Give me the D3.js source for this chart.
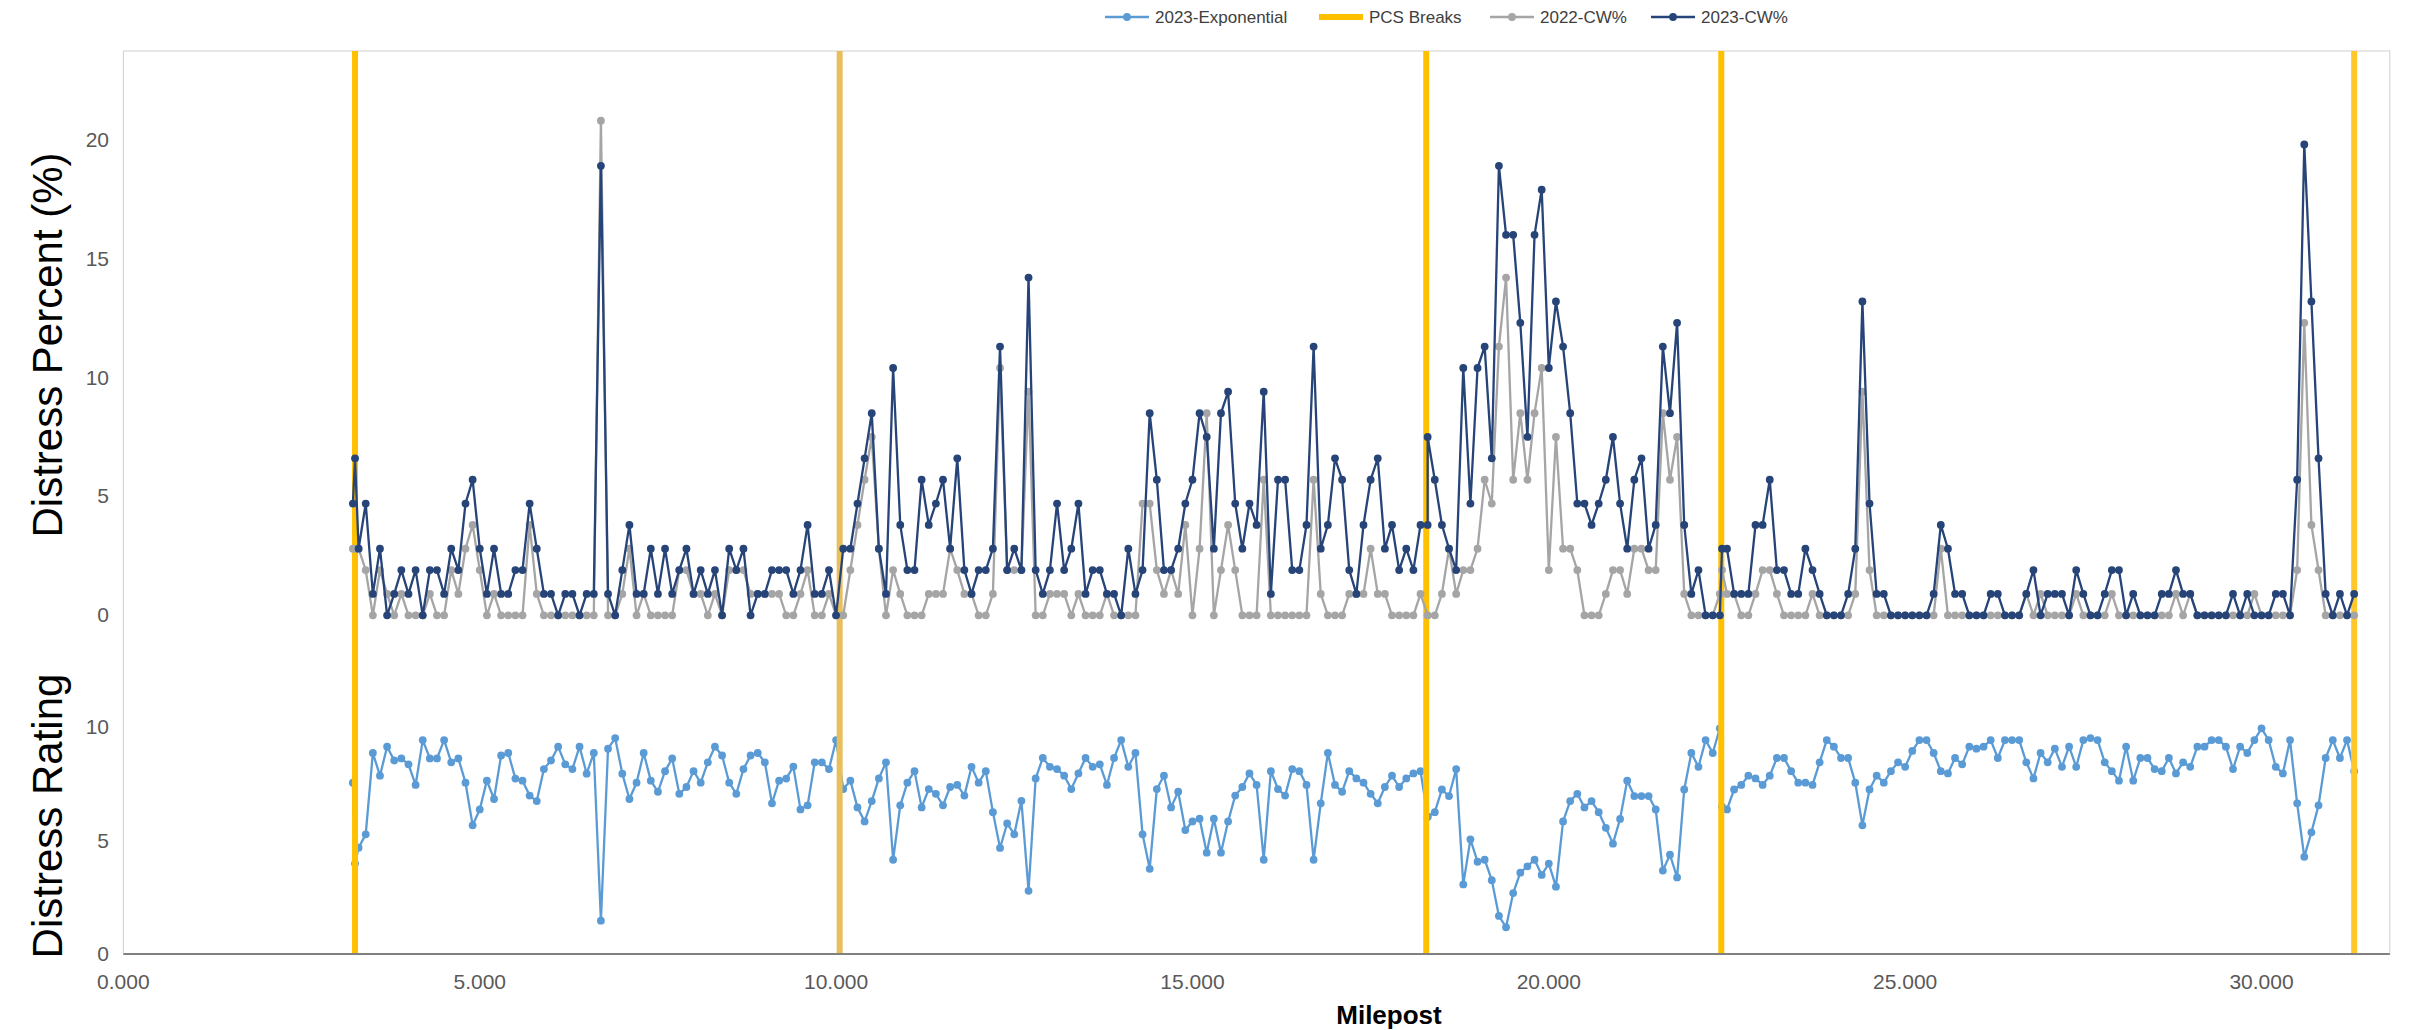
<!DOCTYPE html>
<html><head><meta charset="utf-8">
<script src="https://cdn.jsdelivr.net/npm/d3@7"></script>
<style>
body{margin:0;background:#fff}
svg{display:block}
text{font-family:"Liberation Sans",Arial,sans-serif}
</style>
</head><body>
<svg id="chart" width="2433" height="1030"></svg>
<script>
// ---------- DATA ----------
const mileposts = [3.22,3.25,3.3,
3.4,3.5,3.6,3.7,3.8,3.9,4.0,4.1,4.2,4.3,
4.4,4.5,4.6,4.7,4.8,4.9,5.0,5.1,5.2,5.3,
5.4,5.5,5.6,5.7,5.8,5.9,6.0,6.1,6.2,6.3,
6.4,6.5,6.6,6.7,6.8,6.9,7.0,7.1,7.2,7.3,
7.4,7.5,7.6,7.7,7.8,7.9,8.0,8.1,8.2,8.3,
8.4,8.5,8.6,8.7,8.8,8.9,9.0,9.1,9.2,9.3,
9.4,9.5,9.6,9.7,9.8,9.9,10.0,10.1,10.2,10.3,
10.4,10.5,10.6,10.7,10.8,10.9,11.0,11.1,11.2,11.3,
11.4,11.5,11.6,11.7,11.8,11.9,12.0,12.1,12.2,12.3,
12.4,12.5,12.6,12.7,12.8,12.9,13.0,13.1,13.2,13.3,
13.4,13.5,13.6,13.7,13.8,13.9,14.0,14.1,14.2,14.3,
14.4,14.5,14.6,14.7,14.8,14.9,15.0,15.1,15.2,15.3,
15.4,15.5,15.6,15.7,15.8,15.9,16.0,16.1,16.2,16.3,
16.4,16.5,16.6,16.7,16.8,16.9,17.0,17.1,17.2,17.3,
17.4,17.5,17.6,17.7,17.8,17.9,18.0,18.1,18.2,
18.3,18.3,
18.4,18.5,18.6,18.7,18.8,18.9,19.0,19.1,19.2,19.3,
19.4,19.5,19.6,19.7,19.8,19.9,20.0,20.1,20.2,20.3,
20.4,20.5,20.6,20.7,20.8,20.9,21.0,21.1,21.2,21.3,
21.4,21.5,21.6,21.7,21.8,21.9,22.0,22.1,22.2,22.3,
22.4,22.43,
22.5,22.6,22.7,22.8,22.9,23.0,23.1,23.2,23.3,
23.4,23.5,23.6,23.7,23.8,23.9,24.0,24.1,24.2,24.3,
24.4,24.5,24.6,24.7,24.8,24.9,25.0,25.1,25.2,25.3,
25.4,25.5,25.6,25.7,25.8,25.9,26.0,26.1,26.2,26.3,
26.4,26.5,26.6,26.7,26.8,26.9,27.0,27.1,27.2,27.3,
27.4,27.5,27.6,27.7,27.8,27.9,28.0,28.1,28.2,28.3,
28.4,28.5,28.6,28.7,28.8,28.9,29.0,29.1,29.2,29.3,
29.4,29.5,29.6,29.7,29.8,29.9,30.0,30.1,30.2,30.3,
30.4,30.5,30.6,30.7,30.8,30.9,31.0,31.1,31.2,31.3];

// 2023-Exponential (Distress Rating)
const exp2023 = [7.56,3.99,4.69,
5.28,8.87,7.87,9.15,8.54,8.63,8.37,7.46,9.44,8.63,
8.63,9.44,8.46,8.63,7.56,5.68,6.38,7.65,6.84,8.76,
8.87,7.74,7.65,6.99,6.75,8.16,8.54,9.15,8.37,8.16,
9.15,7.96,8.87,1.47,9.06,9.53,7.96,6.84,7.56,8.87,
7.65,7.16,8.07,8.63,7.07,7.37,8.07,7.56,8.46,9.15,
8.76,7.56,7.07,8.16,8.76,8.87,8.46,6.65,7.65,7.74,
8.27,6.38,6.56,8.46,8.46,8.16,9.44,7.28,7.65,6.47,
5.85,6.75,7.75,8.46,4.16,6.56,7.56,8.07,6.47,7.28,
7.07,6.56,7.37,7.46,6.99,8.26,7.56,8.07,6.26,4.68,
5.76,5.28,6.76,2.79,7.75,8.65,8.26,8.16,7.87,7.28,
7.97,8.65,8.26,8.37,7.46,8.65,9.44,8.26,8.87,5.28,
3.76,7.28,7.87,6.47,7.16,5.47,5.85,5.97,4.47,5.97,
4.47,5.85,6.99,7.37,7.97,7.46,4.16,8.07,7.28,6.99,
8.16,8.07,7.46,4.16,6.65,8.87,7.46,7.16,8.07,7.75,
7.56,7.07,6.65,7.37,7.87,7.37,7.75,7.97,8.07,
6.06,6.06,
6.26,7.26,6.97,8.16,3.07,5.06,4.07,4.16,3.26,1.68,
1.18,2.69,3.59,3.87,4.16,3.49,3.99,2.97,5.85,6.75,
7.07,6.47,6.75,6.26,5.57,4.87,5.96,7.65,6.97,6.97,
6.97,6.38,3.68,4.38,3.38,7.26,8.87,8.26,9.44,8.87,
9.96,6.5,
6.38,7.26,7.46,7.87,7.75,7.46,7.87,8.65,8.65,
8.07,7.56,7.56,7.46,8.46,9.44,9.15,8.65,8.65,7.56,
5.68,7.26,7.87,7.56,8.07,8.46,8.26,8.96,9.44,9.44,
8.87,8.07,7.97,8.65,8.37,9.15,9.06,9.15,9.44,8.65,
9.44,9.44,9.44,8.46,7.75,8.87,8.46,9.06,8.26,9.15,
8.26,9.44,9.53,9.44,8.46,8.07,7.65,9.15,7.65,8.65,
8.65,8.16,8.07,8.65,7.97,8.46,8.26,9.15,9.15,9.44,
9.44,9.15,8.16,9.15,8.87,9.44,9.96,9.44,8.26,7.97,
9.44,6.65,4.29,5.37,6.56,8.65,9.44,8.65,9.44,8.07];

// 2022-CW% (Distress Percent)
const cw2022 = [2.8,2.8,2.8,
1.9,0,1.9,0.9,0,0.9,0,0,0,0.9,
0,0,1.9,0.9,2.8,3.8,1.9,0,0.9,0,
0,0,0,3.8,0.9,0,0,0,0,0,
0,0,0,20.8,0,0,0.9,2.8,0,0.9,
0,0,0,0,1.9,1.9,0.9,0.9,0,0.9,
0,1.9,1.9,1.9,0.9,0.9,0.9,0.9,0.9,0,
0,0.9,1.9,0,0,0.9,0,0,1.9,3.8,
5.7,7.5,2.8,0,1.9,0.9,0,0,0,0.9,
0.9,0.9,2.8,1.9,0.9,0.9,0,0,0.9,10.4,
1.9,1.9,1.9,9.4,0,0,0.9,0.9,0.9,0,
0.9,0,0,0,0.9,0,0,0,0,4.7,
4.7,1.9,0.9,1.9,0.9,3.8,0,2.8,8.5,0,
1.9,3.8,1.9,0,0,0,5.7,0,0,0,
0,0,0,5.7,0.9,0,0,0,0.9,0.9,
0.9,2.8,0.9,0.9,0,0,0,0,0.9,
0,0,
0,0.9,2.8,0.9,1.9,1.9,2.8,5.7,4.7,11.3,
14.2,5.7,8.5,5.7,8.5,10.4,1.9,7.5,2.8,2.8,
1.9,0,0,0,0.9,1.9,1.9,0.9,2.8,2.8,
1.9,1.9,8.5,5.7,7.5,0.9,0,0,0,0,
0.9,1.9,
0.9,0.9,0,0,0.9,1.9,1.9,0.9,0,
0,0,0,0.9,0,0,0,0,0,0.9,
9.4,1.9,0,0,0,0,0,0,0,0,
0,2.8,0,0,0,0,0,0,0,0,
0,0,0,0.9,0,0.9,0,0,0,0,
0.9,0,0,0,0,0.9,0,0,0,0,
0,0,0,0,0.9,0,0.9,0,0,0,
0,0,0,0,0,0.9,0,0,0,0,
0,1.9,12.3,3.8,1.9,0,0,0,0,0];

// 2023-CW% (Distress Percent)
const cw2023 = [4.7,6.6,2.8,
4.7,0.9,2.8,0,0.9,1.9,0.9,1.9,0,1.9,
1.9,0.9,2.8,1.9,4.7,5.7,2.8,0.9,2.8,0.9,
0.9,1.9,1.9,4.7,2.8,0.9,0.9,0,0.9,0.9,
0,0.9,0.9,18.9,0.9,0,1.9,3.8,0.9,0.9,
2.8,0.9,2.8,0.9,1.9,2.8,0.9,1.9,0.9,1.9,
0,2.8,1.9,2.8,0,0.9,0.9,1.9,1.9,1.9,
0.9,1.9,3.8,0.9,0.9,1.9,0,2.8,2.8,4.7,
6.6,8.5,2.8,0.9,10.4,3.8,1.9,1.9,5.7,3.8,
4.7,5.7,2.8,6.6,1.9,0.9,1.9,1.9,2.8,11.3,
1.9,2.8,1.9,14.2,1.9,0.9,1.9,4.7,1.9,2.8,
4.7,0.9,1.9,1.9,0.9,0.9,0,2.8,0.9,1.9,
8.5,5.7,1.9,1.9,2.8,4.7,5.7,8.5,7.5,2.8,
8.5,9.4,4.7,2.8,4.7,3.8,9.4,0.9,5.7,5.7,
1.9,1.9,3.8,11.3,2.8,3.8,6.6,5.7,1.9,0.9,
3.8,5.7,6.6,2.8,3.8,1.9,2.8,1.9,3.8,
3.8,7.5,
5.7,3.8,2.8,1.9,10.4,4.7,10.4,11.3,6.6,18.9,
16.0,16.0,12.3,7.5,16.0,17.9,10.4,13.2,11.3,8.5,
4.7,4.7,3.8,4.7,5.7,7.5,4.7,2.8,5.7,6.6,
2.8,3.8,11.3,8.5,12.3,3.8,0.9,1.9,0,0,
0,2.8,
2.8,0.9,0.9,0.9,3.8,3.8,5.7,1.9,1.9,
0.9,0.9,2.8,1.9,0.9,0,0,0,0.9,2.8,
13.2,4.7,0.9,0.9,0,0,0,0,0,0,
0.9,3.8,2.8,0.9,0.9,0,0,0,0.9,0.9,
0,0,0,0.9,1.9,0,0.9,0.9,0.9,0,
1.9,0.9,0,0,0.9,1.9,1.9,0,0.9,0,
0,0,0.9,0.9,1.9,0.9,0.9,0,0,0,
0,0,0.9,0,0.9,0,0,0,0.9,0.9,
0,5.7,19.8,13.2,6.6,0.9,0,0.9,0,0.9];

const pcsBreaks = [3.25, 10.05, 18.28, 22.42, 31.3];
const xTicks = [0, 5, 10, 15, 20, 25, 30];
const pctTicks = [0, 5, 10, 15, 20];
const ratingTicks = [0, 5, 10];
const legendItems = ["2023-Exponential", "PCS Breaks", "2022-CW%", "2023-CW%"];

// ---------- STYLE / LAYOUT ----------
const W = 2433, H = 1030;
const plot = {left: 123.4, right: 2389.8, top: 51, bottom: 954};
const colors = {exp: "#5B9BD5", pcs: "#FFC000", c22: "#A5A5A5", c23: "#264478"};
const breakColors = ["#FFC000", "#E9BF5C", "#FFC000", "#FFC000", "#FFC72A"];
const MR = 3.9, LW = 2.3;

const svg = d3.select("#chart");
svg.append("rect").attr("width", W).attr("height", H).attr("fill", "#fff");

const x = d3.scaleLinear().domain([0, 31.8]).range([plot.left, plot.right]);
const yPct = d3.scaleLinear().domain([0, 20]).range([615.3, 139.7]);
const yRat = d3.scaleLinear().domain([0, 10]).range([954, 727.4]);

// plot frame
svg.append("rect").attr("x", plot.left).attr("y", plot.top)
  .attr("width", plot.right - plot.left).attr("height", plot.bottom - plot.top)
  .attr("fill", "none").attr("stroke", "#d0d0d0").attr("stroke-width", 1);

// series data
const expData = mileposts.map((m, i) => ({m, v: exp2023[i]}));
const c22Data = mileposts.map((m, i) => ({m, v: cw2022[i]}));
const c23Data = mileposts.map((m, i) => ({m, v: cw2023[i]}));

function drawSeries(data, yScale, color) {
  const g = svg.append("g");
  g.append("path").datum(data)
    .attr("fill", "none").attr("stroke", color).attr("stroke-width", LW)
    .attr("stroke-linejoin", "round")
    .attr("d", d3.line().x(d => x(d.m)).y(d => yScale(d.v)));
  g.selectAll("circle").data(data).join("circle")
    .attr("cx", d => x(d.m)).attr("cy", d => yScale(d.v)).attr("r", MR)
    .attr("fill", color);
}

drawSeries(expData, yRat, colors.exp);

// PCS break lines
svg.append("g").selectAll("line").data(pcsBreaks).join("line")
  .attr("x1", d => x(d)).attr("x2", d => x(d))
  .attr("y1", plot.top).attr("y2", plot.bottom)
  .attr("stroke", (d, i) => breakColors[i]).attr("stroke-width", 6);

drawSeries(c22Data, yPct, colors.c22);
drawSeries(c23Data, yPct, colors.c23);

// x axis line
svg.append("line").attr("x1", plot.left).attr("x2", plot.right)
  .attr("y1", plot.bottom).attr("y2", plot.bottom)
  .attr("stroke", "#808080").attr("stroke-width", 2);

// x tick labels
svg.append("g").selectAll("text").data(xTicks).join("text")
  .attr("x", d => x(d)).attr("y", 989)
  .attr("text-anchor", "middle").attr("font-size", 21).attr("fill", "#595959")
  .text(d => d3.format(".3f")(d));

// y tick labels
svg.append("g").selectAll("text").data(pctTicks).join("text")
  .attr("x", 109).attr("y", d => yPct(d) + 7)
  .attr("text-anchor", "end").attr("font-size", 21).attr("fill", "#595959")
  .text(d => d);
svg.append("g").selectAll("text").data(ratingTicks).join("text")
  .attr("x", 109).attr("y", d => yRat(d) + 7)
  .attr("text-anchor", "end").attr("font-size", 21).attr("fill", "#595959")
  .text(d => d);

// axis titles
svg.append("text").attr("transform", "translate(62,345) rotate(-90)")
  .attr("text-anchor", "middle").attr("font-size", 42).attr("fill", "#000")
  .text("Distress Percent (%)");
svg.append("text").attr("transform", "translate(62,816) rotate(-90)")
  .attr("text-anchor", "middle").attr("font-size", 42).attr("fill", "#000")
  .text("Distress Rating");
svg.append("text").attr("x", 1389).attr("y", 1024)
  .attr("text-anchor", "middle").attr("font-size", 26).attr("font-weight", "bold")
  .attr("fill", "#000").text("Milepost");

// legend
const legendX = [1105, 1319, 1490, 1651];
const legendColors = [colors.exp, colors.pcs, colors.c22, colors.c23];
const lg = svg.append("g");
legendItems.forEach((name, i) => {
  const x0 = legendX[i], cy = 17;
  lg.append("line").attr("x1", x0).attr("x2", x0 + 44).attr("y1", cy).attr("y2", cy)
    .attr("stroke", legendColors[i]).attr("stroke-width", i === 1 ? 6 : LW);
  if (i !== 1) lg.append("circle").attr("cx", x0 + 22).attr("cy", cy).attr("r", MR)
    .attr("fill", legendColors[i]);
  lg.append("text").attr("x", x0 + 50).attr("y", cy + 6)
    .attr("font-size", 17).attr("fill", "#404040").text(name);
});
</script>
</body></html>
